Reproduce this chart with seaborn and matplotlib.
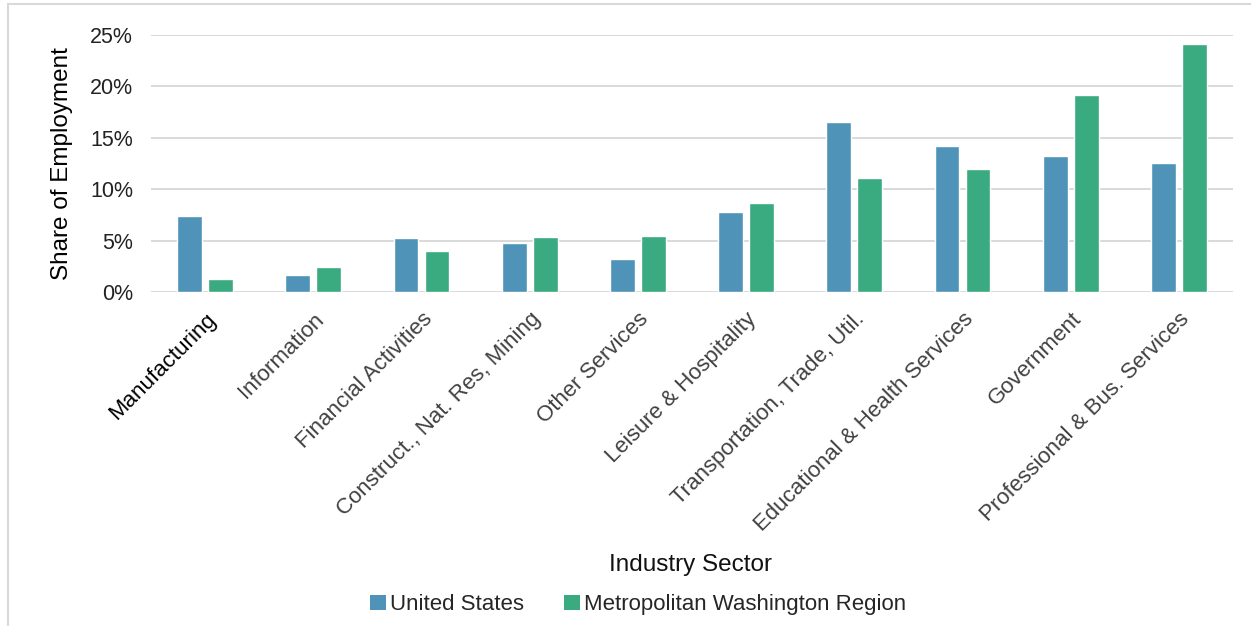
import pandas as pd
import matplotlib
matplotlib.use("Agg")
import matplotlib.pyplot as plt
import seaborn as sns
from matplotlib.ticker import PercentFormatter
from matplotlib.patches import Rectangle, Patch

# -----------------------------
# data (share of employment in %)
# -----------------------------
sectors = ["Manufacturing", "Information", "Financial Activities",
           "Construct., Nat. Res, Mining", "Other Services", "Leisure & Hospitality",
           "Transportation, Trade, Util.", "Educational & Health Services",
           "Government", "Professional & Bus. Services"]
us_share    = [7.4, 1.65, 5.25, 4.8, 3.2, 7.8, 16.5, 14.2, 13.2, 12.55]
metro_share = [1.3, 2.45, 4.0, 5.35, 5.45, 8.65, 11.1, 11.95, 19.15, 24.1]
series_names = ["United States", "Metropolitan Washington Region"]

COLORS = ["#4F93B8", "#3AAA80"]

df = pd.DataFrame({
    "sector": sectors * 2,
    "share": us_share + metro_share,
    "region": [series_names[0]] * len(sectors) + [series_names[1]] * len(sectors),
})

sns.set_theme(style="white")
plt.rcParams["font.family"] = ["Liberation Sans", "DejaVu Sans"]

fig = plt.figure(figsize=(12.51, 6.26), dpi=100)
ax = fig.add_axes([0.1207, 0.5335, 0.865, 0.4105])

sns.barplot(data=df, x="sector", y="share", hue="region", order=sectors,
            hue_order=series_names, palette=COLORS, width=0.573, gap=0.2,
            saturation=1, legend=False, ax=ax)

ax.set_ylim(0, 25)
ax.set_xlim(-0.5, len(sectors) - 0.5)
ax.set_yticks([0, 5, 10, 15, 20, 25])
ax.yaxis.set_major_formatter(PercentFormatter(decimals=0))
ax.grid(axis="y", color="#d9d9d9", linewidth=1.4)
ax.set_axisbelow(True)
for s in ax.spines.values():
    s.set_visible(False)
ax.tick_params(axis="both", length=0)
ax.tick_params(axis="y", labelsize=15.5, colors="#222222", pad=13)

ax.set_xticks(range(len(sectors)))
ax.set_xticklabels(sectors, rotation=45, ha="right", rotation_mode="anchor",
                   fontsize=16, color="#404040")
ax.get_xticklabels()[0].set_color("black")
ax.tick_params(axis="x", pad=12)

ax.set_xlabel("")
ax.set_ylabel("Share of Employment", fontsize=17.5, color="black")
ax.yaxis.set_label_coords(-0.072, 0.5)

fig.text(0.552, 0.097, "Industry Sector", ha="center", va="center",
         fontsize=17.5, color="#111111")

handles = [Patch(facecolor=c, edgecolor="none") for c in COLORS]
fig.legend(handles, series_names, loc="center", bbox_to_anchor=(0.51, 0.034),
           ncol=2, frameon=False, prop={"size": 16},
           handlelength=0.7, handleheight=0.7, handletextpad=0.2, columnspacing=1.8)

# light frame around the chart area
fig.patches.append(Rectangle((8 / 1251, -0.01), 1.05, 1 - 4 / 626 + 0.01,
                             transform=fig.transFigure, fill=False,
                             edgecolor="#d9d9d9", linewidth=1.5))

fig.savefig("out.png", dpi=100)
